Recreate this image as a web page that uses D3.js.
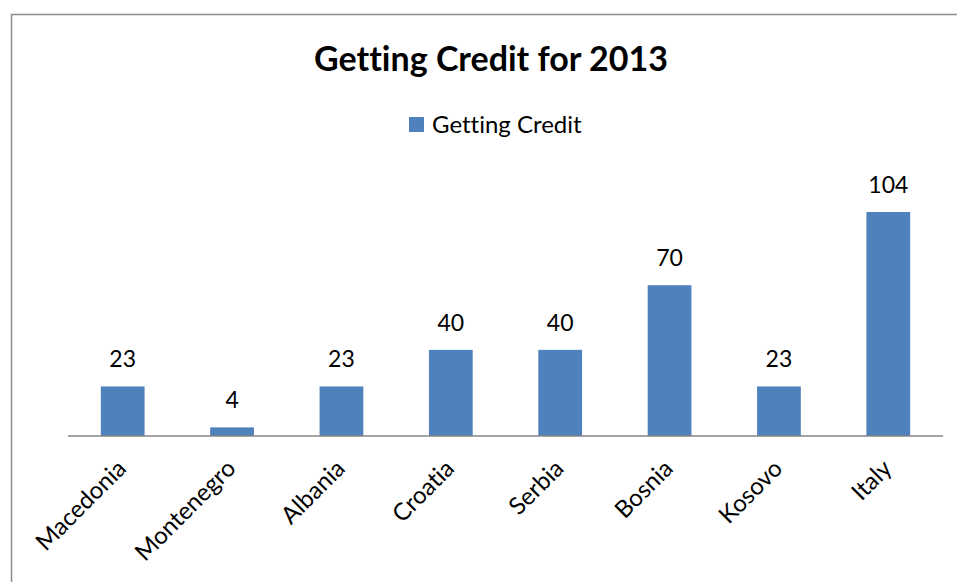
<!DOCTYPE html>
<html>
<head>
<meta charset="utf-8">
<script src="https://cdn.jsdelivr.net/npm/d3@7"></script>
<style>
  html, body { margin: 0; padding: 0; background: #fff; }
  svg { display: block; }
  text { font-variant-ligatures: none; }
</style>
</head>
<body>
<svg id="chart" width="957" height="582"></svg>
<script>
// Getting Credit ranking by country, 2013
const categories = ["Macedonia", "Montenegro", "Albania", "Croatia", "Serbia", "Bosnia", "Kosovo", "Italy"];
const gettingCredit = [23, 4, 23, 40, 40, 70, 23, 104];
const seriesName = "Getting Credit";
const titleText = "Getting Credit for 2013";

const W = 957, H = 582;
const font = "Lato, 'Open Sans', sans-serif";
const barColor = "#4f81bd";

const svg = d3.select("#chart");

// outer frame
svg.append("rect")
  .attr("x", 11.5).attr("y", 14.5)
  .attr("width", W + 10).attr("height", H + 10)
  .attr("fill", "#fff")
  .attr("stroke", "#8c8c8c").attr("stroke-width", 1.5);

const plot = { left: 68, right: 943, baseline: 436 };

const x = d3.scaleBand()
  .domain(categories)
  .range([plot.left, plot.right])
  .paddingInner(0.6)
  .paddingOuter(0.3);

const y = d3.scaleLinear()
  .domain([0, 104])
  .range([plot.baseline, 212]);

const data = categories.map((c, i) => ({ c, v: gettingCredit[i] }));

// bars
svg.append("g").selectAll("rect")
  .data(data).join("rect")
  .attr("x", d => x(d.c))
  .attr("y", d => y(d.v))
  .attr("width", x.bandwidth())
  .attr("height", d => y(0) - y(d.v))
  .attr("fill", barColor);

// value labels
svg.append("g").selectAll("text")
  .data(data).join("text")
  .attr("x", d => x(d.c) + x.bandwidth() / 2)
  .attr("y", d => y(d.v) - 19)
  .attr("text-anchor", "middle")
  .attr("font-family", font)
  .attr("font-size", 23)
  .attr("fill", "#000")
  .text(d => d.v);

// category axis
const xAxis = d3.axisBottom(x).tickSize(0).tickPadding(0);
const gx = svg.append("g")
  .attr("transform", `translate(0,${plot.baseline})`)
  .call(xAxis);
gx.select(".domain").attr("stroke", "#868686").attr("stroke-width", 1.5)
  .attr("d", `M${plot.left},0H${plot.right}`);
gx.selectAll(".tick text")
  .attr("font-family", font)
  .attr("font-size", 24)
  .attr("fill", "#000")
  .attr("text-anchor", "end")
  .attr("dy", 0)
  .attr("transform", "translate(5,34) rotate(-45)");

// title
svg.append("text")
  .attr("x", 491).attr("y", 71)
  .attr("text-anchor", "middle")
  .attr("font-family", font)
  .attr("font-weight", "bold")
  .attr("font-size", 34)
  .attr("fill", "#000")
  .text(titleText);

// legend
const lg = svg.append("g").attr("transform", "translate(409,117)");
lg.append("rect").attr("width", 15).attr("height", 15).attr("fill", barColor);
lg.append("text")
  .attr("x", 23).attr("y", 16)
  .attr("font-family", font)
  .attr("font-size", 24)
  .attr("fill", "#000")
  .text(seriesName);
</script>
</body>
</html>
